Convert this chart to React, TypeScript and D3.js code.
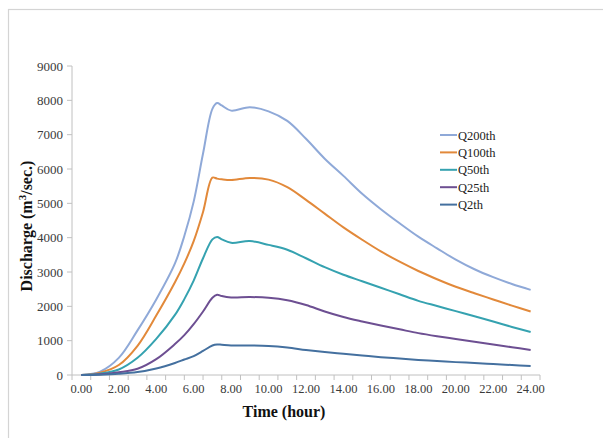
import React from "react";
import * as d3 from "d3";

// hours since start of the event
const hours = [0, 1, 2, 3, 4, 5, 5.5, 6, 6.5, 7, 7.25, 7.5, 8, 9, 10, 11, 12, 13, 14, 15, 16, 17, 18, 19, 20, 21, 22, 23, 24];

const q200 = [0, 100, 500, 1300, 2200, 3250, 4050, 5050, 6450, 7750, 7920, 7850, 7700, 7800, 7680, 7400, 6880, 6300, 5800, 5280, 4830, 4420, 4030, 3690, 3360, 3080, 2850, 2650, 2480];
const q100 = [0, 70, 290, 850, 1730, 2700, 3250, 3900, 4750, 5750, 5720, 5700, 5680, 5740, 5690, 5470, 5100, 4700, 4300, 3940, 3600, 3300, 3030, 2790, 2570, 2380, 2200, 2020, 1850];
const q50 = [0, 40, 160, 500, 1050, 1750, 2210, 2750, 3400, 3950, 4020, 3950, 3850, 3900, 3790, 3650, 3400, 3140, 2920, 2730, 2540, 2350, 2160, 2010, 1860, 1710, 1560, 1400, 1250];
const q25 = [0, 20, 80, 180, 460, 900, 1160, 1480, 1850, 2250, 2340, 2300, 2260, 2270, 2250, 2180, 2040, 1850, 1690, 1560, 1440, 1330, 1220, 1130, 1050, 970, 890, 810, 730];
const q2 = [0, 10, 35, 85, 190, 350, 450, 550, 700, 860, 890, 880, 860, 860, 845, 800, 730, 670, 620, 570, 520, 480, 440, 410, 375, 350, 320, 290, 260];

const seriesNames = ["Q200th", "Q100th", "Q50th", "Q25th", "Q2th"];
const seriesValues = [q200, q100, q50, q25, q2];
const seriesColors = ["#8fa9d8", "#e2893a", "#35a2b0", "#6d4f92", "#44709f"];

const yTicks = [0, 1000, 2000, 3000, 4000, 5000, 6000, 7000, 8000, 9000];
const xLabels = [0, 2, 4, 6, 8, 10, 12, 14, 16, 18, 20, 22, 24];

const W = 603;
const H = 438;
const plot = { left: 72, right: 540, top: 66, bottom: 375 };
const serif = "'Liberation Serif', 'Times New Roman', serif";

export default function App() {
  // category-style axis: each hour occupies one slot, labels centred in the slot
  const x = d3.scaleLinear().domain([-0.5, 24.5]).range([plot.left, plot.right]);
  const y = d3.scaleLinear().domain([0, 9000]).range([plot.bottom, plot.top]);

  const line = d3
    .line<number>()
    .x((_, i) => x(hours[i]))
    .y((d) => y(d))
    .curve(d3.curveCatmullRom.alpha(0.5));

  const tickSlots = d3.range(-0.5, 24.6, 1);

  return (
    <svg
      width={W}
      height={H}
      style={{ position: "absolute", left: 0, top: 0, background: "#fff" }}
    >
      <rect x={8.5} y={9.5} width={700} height={600} fill="#fff" stroke="#d4d4d4" strokeWidth={1.2} />

      {/* y axis */}
      <line x1={plot.left} x2={plot.left} y1={plot.top} y2={plot.bottom} stroke="#c0c0c0" />
      {yTicks.map((v) => (
        <g key={v}>
          <line x1={plot.left - 5} x2={plot.left} y1={y(v)} y2={y(v)} stroke="#c0c0c0" />
          <text
            x={63}
            y={y(v) + 4.5}
            textAnchor="end"
            fontFamily={serif}
            fontSize={13}
            fill="#3a3a3a"
          >
            {v}
          </text>
        </g>
      ))}

      {/* x axis */}
      <line x1={plot.left} x2={plot.right} y1={plot.bottom} y2={plot.bottom} stroke="#c0c0c0" />
      {tickSlots.map((t) => (
        <line key={t} x1={x(t)} x2={x(t)} y1={plot.bottom} y2={plot.bottom + 5} stroke="#c0c0c0" />
      ))}
      {xLabels.map((t) => (
        <text
          key={t}
          x={x(t)}
          y={393}
          textAnchor="middle"
          fontFamily={serif}
          fontSize={12.5}
          fill="#3a3a3a"
        >
          {t.toFixed(2)}
        </text>
      ))}

      {/* series */}
      {seriesValues.map((vals, i) => (
        <path
          key={seriesNames[i]}
          d={line(vals) || ""}
          fill="none"
          stroke={seriesColors[i]}
          strokeWidth={2}
        />
      ))}

      {/* legend */}
      {seriesNames.map((name, i) => {
        const ly = 135 + i * 17.4;
        return (
          <g key={name}>
            <line x1={440} x2={457} y1={ly} y2={ly} stroke={seriesColors[i]} strokeWidth={2} />
            <text x={458} y={ly + 4.5} fontFamily={serif} fontSize={12.5} fill="#222">
              {name}
            </text>
          </g>
        );
      })}

      {/* titles */}
      <text
        x={284}
        y={417}
        textAnchor="middle"
        fontFamily={serif}
        fontSize={16}
        fontWeight="bold"
        fill="#111"
      >
        Time (hour)
      </text>
      <text
        transform={`translate(32, 226) rotate(-90)`}
        textAnchor="middle"
        fontFamily={serif}
        fontSize={16}
        fontWeight="bold"
        fill="#111"
      >
        Discharge (m
        <tspan dy={-6} fontSize={11}>3</tspan>
        <tspan dy={6}>/sec.)</tspan>
      </text>
    </svg>
  );
}
